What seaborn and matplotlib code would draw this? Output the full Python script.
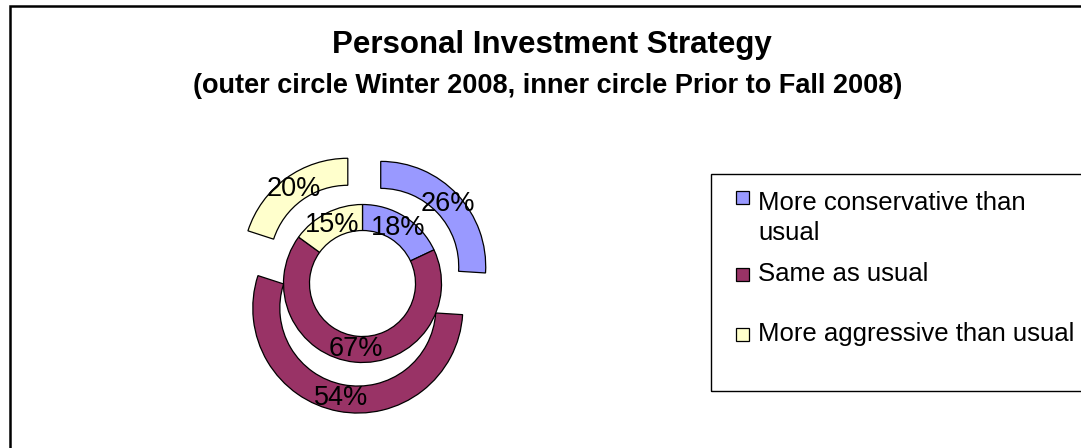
import matplotlib
matplotlib.use("Agg")
import matplotlib.pyplot as plt
from matplotlib.patches import Rectangle
import seaborn as sns

# ---- data ----
categories = ["More conservative than usual", "Same as usual", "More aggressive than usual"]
legend_text = ["More conservative than\nusual", "Same as usual", "More aggressive than usual"]
outer_values = [26, 54, 20]   # Winter 2008
inner_values = [18, 67, 15]   # Prior to Fall 2008
title = "Personal Investment Strategy"
subtitle = "(outer circle Winter 2008, inner circle Prior to Fall 2008)"

sns.set_theme(style="white")
plt.rcParams["font.family"] = ["Liberation Sans", "DejaVu Sans"]
plt.rcParams["text.color"] = "black"
colors = sns.color_palette(["#9999FF", "#993366", "#FFFFCC"])

W, H = 1081, 448
fig = plt.figure(figsize=(W / 100, H / 100), dpi=100)
ax = fig.add_axes([0, 0, 1, 1])

cx, cy = 362.5, H - 283.5
edge = dict(edgecolor="black", linewidth=0.9)

# outer ring (exploded; explode is in data units here)
ax.pie(outer_values, radius=105, center=(cx, cy), startangle=90, counterclock=False,
       colors=colors, explode=[25] * 3, autopct="%1.0f%%", pctdistance=91.5 / 105,
       wedgeprops=dict(width=27, **edge),
       textprops=dict(fontsize=19.5, color="black"))
# inner ring
ax.pie(inner_values, radius=79, center=(cx, cy), startangle=90, counterclock=False,
       colors=colors, autopct="%1.0f%%", pctdistance=66 / 79,
       wedgeprops=dict(width=26, **edge),
       textprops=dict(fontsize=19.5, color="black"))

ax.set_xlim(0, W)
ax.set_ylim(0, H)
ax.set_aspect("equal")
ax.axis("off")

# titles
ax.text(552, H - 45, title, ha="center", va="center", fontsize=22.5,
        fontweight="bold", color="black")
ax.text(548, H - 86, subtitle, ha="center", va="center", fontsize=19.5,
        fontweight="bold", color="black")

# chart border (extends past right/bottom edge)
ax.add_patch(Rectangle((10, -20), W + 40, H - 6 + 20, fill=False, edgecolor="black",
                       linewidth=1.8, clip_on=False))

# legend box
ax.add_patch(Rectangle((711, H - 391), 420, 391 - 174, fill=False, edgecolor="black",
                       linewidth=1.0, clip_on=False))
square_centers = [198, 274.5, 334.5]
last_baselines = [240, 281, 341]
for lab, col, sc, b in zip(legend_text, colors, square_centers, last_baselines):
    ax.add_patch(Rectangle((736, H - sc - 6.5), 13, 13, facecolor=col, edgecolor="black",
                           linewidth=0.9))
    ax.text(758, H - b, lab, ha="left", va="baseline", fontsize=18.5, color="black",
            linespacing=1.3)

fig.savefig("out.png", dpi=100)
